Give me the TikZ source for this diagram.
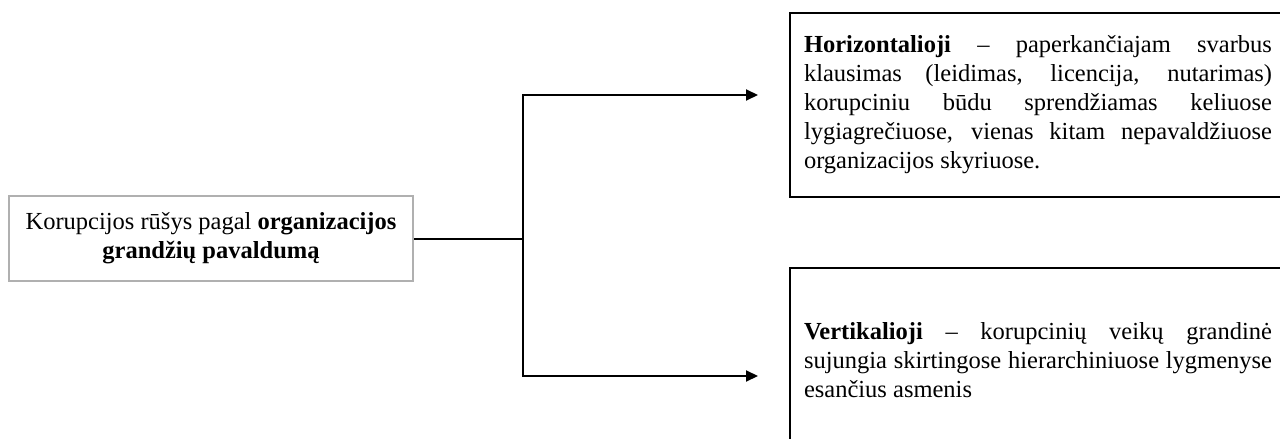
\documentclass[tikz,border=0pt]{standalone}
\usepackage{fontspec}
\setmainfont{Liberation Serif}
\usetikzlibrary{arrows.meta}
\definecolor{boxgray}{HTML}{B0B0B0}
\begin{document}
\begin{tikzpicture}[x=1pt,y=-1pt,
  txt/.style={font=\fontsize{24.5}{29}\selectfont},
  rootbox/.style={txt, draw=boxgray, line width=2pt, minimum width=404pt,
    minimum height=85pt, align=center, inner sep=0pt},
  kindbox/.style={txt, draw=black, line width=2pt, anchor=north west,
    text width=468pt, inner xsep=14pt, inner ysep=0pt, minimum height=184pt,
    align=justify, execute at begin node={\tolerance=10000\hyphenpenalty=10000}},
  link/.style={line width=2pt},
  arrowlink/.style={link, -{Triangle[length=12pt,width=11pt]}}
]
\useasboundingbox (0,0) rectangle (1280,439);
\clip (0,0) rectangle (1280,439);

% classification criterion
\node[rootbox] (root) at (211,238.5)
  {Korupcijos rūšys pagal \textbf{organizacijos}\\\textbf{grandžių pavaldumą}};

% the two kinds
\node[kindbox] (horiz) at (789,12)
  {\textbf{Horizontalioji} – paperkančiajam svarbus\linebreak
   klausimas (leidimas, licencija, nutarimas)\linebreak
   korupciniu būdu sprendžiamas keliuose\linebreak
   lygiagrečiuose, vienas kitam nepavaldžiuose\linebreak
   organizacijos skyriuose.};
\node[kindbox] (vert) at (789,267)
  {\textbf{Vertikalioji} – korupcinių veikų grandinė\linebreak
   sujungia skirtingose hierarchiniuose lygmenyse\linebreak
   esančius asmenis};

% branching connector
\coordinate (fork) at (523,238.5);
\coordinate (tipH) at (758,95);
\coordinate (tipV) at (758,376);
\draw[link] (root.east) -- (fork);
\draw[arrowlink] (fork) |- (tipH);
\draw[arrowlink] (fork) |- (tipV);
\end{tikzpicture}
\end{document}
